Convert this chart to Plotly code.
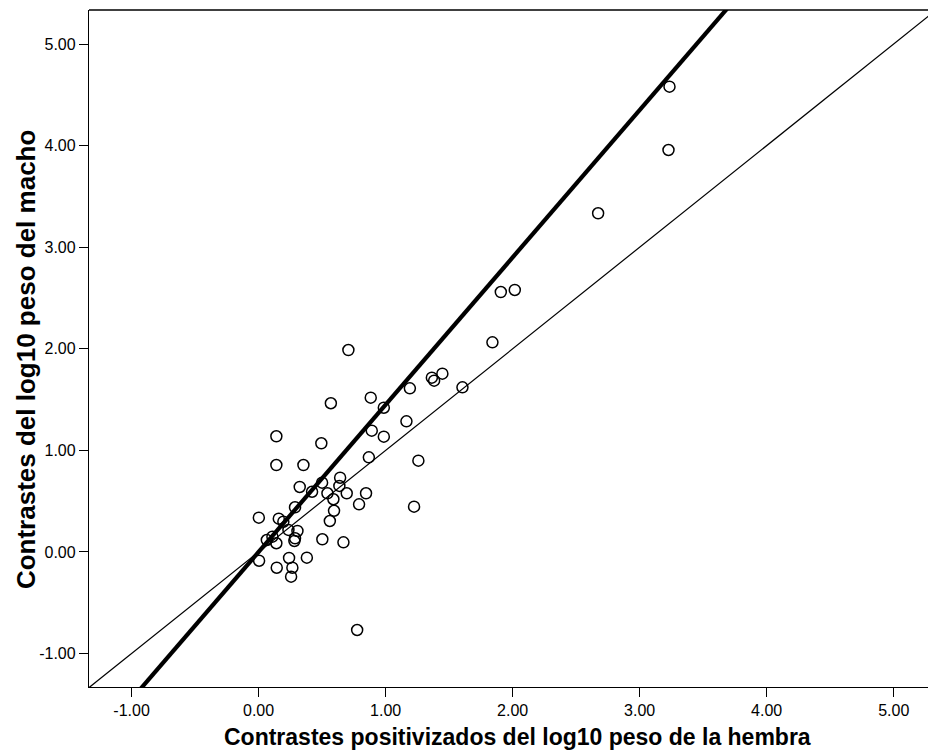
import plotly.graph_objects as go

# Data
hembra = [0.707, 1.841, 1.364, 1.382, 1.447, 1.191, 1.605, 0.569, 0.883, 0.986,
          1.164, 0.891, 0.986, 0.140, 0.494, 1.258, 0.868, 0.140, 0.353, 0.642,
          0.636, 0.500, 0.324, 0.421, 0.542, 0.694, 0.846, 0.589, 0.791, 1.224,
          0.287, 0.594, 0.002, 0.159, 0.195, 0.561, 0.235, 0.306, 0.065, 0.109,
          0.287, 0.282, 0.140, 0.502, 0.668, 0.004, 0.240, 0.380, 0.143, 0.266,
          0.256, 1.907, 2.017, 2.673, 3.235, 3.227, 0.776]
macho = [1.988, 2.064, 1.716, 1.686, 1.755, 1.611, 1.621, 1.464, 1.519, 1.420,
         1.286, 1.194, 1.135, 1.139, 1.070, 0.899, 0.932, 0.856, 0.856, 0.731,
         0.650, 0.682, 0.640, 0.593, 0.578, 0.578, 0.578, 0.519, 0.469, 0.446,
         0.440, 0.406, 0.338, 0.328, 0.298, 0.305, 0.217, 0.207, 0.118, 0.151,
         0.135, 0.108, 0.086, 0.125, 0.095, -0.086, -0.059, -0.056, -0.155, -0.155,
         -0.243, 2.559, 2.579, 3.334, 4.580, 3.957, -0.768]

# fitted line through origin and the identity reference line
fit_slope = 1.45
ref_slope = 1.0
line_x = [-2.0, 7.0]

x_range = [-1.335, 5.27]
y_range = [-1.329, 5.335]
tick_vals = [-1, 0, 1, 2, 3, 4, 5]
tick_text = ["-1.00", "0.00", "1.00", "2.00", "3.00", "4.00", "5.00"]

x_title = "Contrastes positivizados del log10 peso de la hembra"
y_title = "Contrastes del log10 peso del macho"

FONT = "Liberation Sans, Arial, sans-serif"

fig = go.Figure()
fig.add_trace(go.Scatter(x=line_x, y=[ref_slope * v for v in line_x], mode="lines",
                         line=dict(color="black", width=1.2), hoverinfo="skip"))
fig.add_trace(go.Scatter(x=line_x, y=[fit_slope * v for v in line_x], mode="lines",
                         line=dict(color="black", width=4.2), hoverinfo="skip"))
fig.add_trace(go.Scatter(x=hembra, y=macho, mode="markers",
                         marker=dict(symbol="circle-open", size=11, color="black",
                                     line=dict(width=1.5, color="black"))))

axis_common = dict(showgrid=False, zeroline=False, showline=True, linecolor="black",
                   linewidth=1.3, ticks="outside", ticklen=9, tickwidth=1.3,
                   tickcolor="black", tickvals=tick_vals, ticktext=tick_text,
                   tickfont=dict(family=FONT, size=16, color="black"))

fig.update_layout(
    width=928, height=752,
    margin=dict(l=89, r=0, t=10, b=65),
    paper_bgcolor="white", plot_bgcolor="white",
    showlegend=False,
    xaxis=dict(range=x_range, **axis_common),
    yaxis=dict(range=y_range, **axis_common),
    shapes=[dict(type="line", xref="paper", yref="paper", x0=0, x1=1, y0=1, y1=1,
                 line=dict(color="black", width=1.3))],
    annotations=[
        dict(text="<b>" + x_title + "</b>", xref="paper", yref="paper",
             x=0.511, y=-0.074, xanchor="center", yanchor="middle", showarrow=False,
             font=dict(family=FONT, size=23, color="black")),
        dict(text="<b>" + y_title + "</b>", xref="paper", yref="paper",
             x=-0.075, y=0.483, xanchor="center", yanchor="middle", showarrow=False,
             textangle=-90, font=dict(family=FONT, size=26, color="black")),
    ],
)

fig.write_html("out.html", config={"displayModeBar": False},
               post_script="document.body.style.margin='0';document.body.style.overflow='hidden';")
